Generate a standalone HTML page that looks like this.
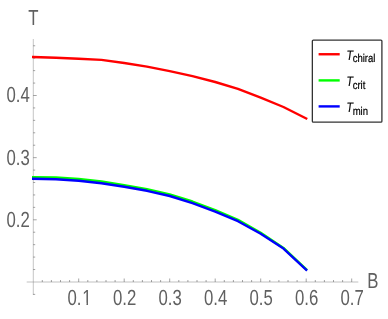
<!DOCTYPE html>
<html><head><meta charset="utf-8"><style>
html,body{margin:0;padding:0;background:#ffffff;}
svg{display:block;font-family:"Liberation Sans",sans-serif;will-change:transform;text-rendering:geometricPrecision;}
</style></head><body>
<svg width="388" height="319" viewBox="0 0 388 319">
<rect x="0" y="0" width="388" height="319" fill="#ffffff"/>
<line x1="33.300000000000004" y1="39.0" x2="33.300000000000004" y2="295.0" stroke="#808080" stroke-width="0.46"/>
<line x1="26.7" y1="282.0" x2="358.3" y2="282.0" stroke="#808080" stroke-width="0.5"/>
<line x1="33.2" y1="294.38" x2="35.2" y2="294.38" stroke="#5a5a5a" stroke-width="0.55"/>
<line x1="33.2" y1="269.52" x2="35.2" y2="269.52" stroke="#5a5a5a" stroke-width="0.55"/>
<line x1="33.2" y1="257.09" x2="35.2" y2="257.09" stroke="#5a5a5a" stroke-width="0.55"/>
<line x1="33.2" y1="244.66" x2="35.2" y2="244.66" stroke="#5a5a5a" stroke-width="0.55"/>
<line x1="33.2" y1="232.23" x2="35.2" y2="232.23" stroke="#5a5a5a" stroke-width="0.55"/>
<line x1="33.2" y1="219.80" x2="36.7" y2="219.80" stroke="#5a5a5a" stroke-width="0.55"/>
<line x1="33.2" y1="207.37" x2="35.2" y2="207.37" stroke="#5a5a5a" stroke-width="0.55"/>
<line x1="33.2" y1="194.94" x2="35.2" y2="194.94" stroke="#5a5a5a" stroke-width="0.55"/>
<line x1="33.2" y1="182.51" x2="35.2" y2="182.51" stroke="#5a5a5a" stroke-width="0.55"/>
<line x1="33.2" y1="170.08" x2="35.2" y2="170.08" stroke="#5a5a5a" stroke-width="0.55"/>
<line x1="33.2" y1="157.65" x2="36.7" y2="157.65" stroke="#5a5a5a" stroke-width="0.55"/>
<line x1="33.2" y1="145.22" x2="35.2" y2="145.22" stroke="#5a5a5a" stroke-width="0.55"/>
<line x1="33.2" y1="132.79" x2="35.2" y2="132.79" stroke="#5a5a5a" stroke-width="0.55"/>
<line x1="33.2" y1="120.36" x2="35.2" y2="120.36" stroke="#5a5a5a" stroke-width="0.55"/>
<line x1="33.2" y1="107.93" x2="35.2" y2="107.93" stroke="#5a5a5a" stroke-width="0.55"/>
<line x1="33.2" y1="95.50" x2="36.7" y2="95.50" stroke="#5a5a5a" stroke-width="0.55"/>
<line x1="33.2" y1="83.07" x2="35.2" y2="83.07" stroke="#5a5a5a" stroke-width="0.55"/>
<line x1="33.2" y1="70.64" x2="35.2" y2="70.64" stroke="#5a5a5a" stroke-width="0.55"/>
<line x1="33.2" y1="58.21" x2="35.2" y2="58.21" stroke="#5a5a5a" stroke-width="0.55"/>
<line x1="33.2" y1="45.78" x2="35.2" y2="45.78" stroke="#5a5a5a" stroke-width="0.55"/>
<line x1="42.30" y1="282.0" x2="42.30" y2="280.0" stroke="#5a5a5a" stroke-width="0.55"/>
<line x1="51.40" y1="282.0" x2="51.40" y2="280.0" stroke="#5a5a5a" stroke-width="0.55"/>
<line x1="60.50" y1="282.0" x2="60.50" y2="280.0" stroke="#5a5a5a" stroke-width="0.55"/>
<line x1="69.60" y1="282.0" x2="69.60" y2="280.0" stroke="#5a5a5a" stroke-width="0.55"/>
<line x1="78.70" y1="282.0" x2="78.70" y2="278.5" stroke="#5a5a5a" stroke-width="0.55"/>
<line x1="87.80" y1="282.0" x2="87.80" y2="280.0" stroke="#5a5a5a" stroke-width="0.55"/>
<line x1="96.90" y1="282.0" x2="96.90" y2="280.0" stroke="#5a5a5a" stroke-width="0.55"/>
<line x1="106.00" y1="282.0" x2="106.00" y2="280.0" stroke="#5a5a5a" stroke-width="0.55"/>
<line x1="115.10" y1="282.0" x2="115.10" y2="280.0" stroke="#5a5a5a" stroke-width="0.55"/>
<line x1="124.20" y1="282.0" x2="124.20" y2="278.5" stroke="#5a5a5a" stroke-width="0.55"/>
<line x1="133.30" y1="282.0" x2="133.30" y2="280.0" stroke="#5a5a5a" stroke-width="0.55"/>
<line x1="142.40" y1="282.0" x2="142.40" y2="280.0" stroke="#5a5a5a" stroke-width="0.55"/>
<line x1="151.50" y1="282.0" x2="151.50" y2="280.0" stroke="#5a5a5a" stroke-width="0.55"/>
<line x1="160.60" y1="282.0" x2="160.60" y2="280.0" stroke="#5a5a5a" stroke-width="0.55"/>
<line x1="169.70" y1="282.0" x2="169.70" y2="278.5" stroke="#5a5a5a" stroke-width="0.55"/>
<line x1="178.80" y1="282.0" x2="178.80" y2="280.0" stroke="#5a5a5a" stroke-width="0.55"/>
<line x1="187.90" y1="282.0" x2="187.90" y2="280.0" stroke="#5a5a5a" stroke-width="0.55"/>
<line x1="197.00" y1="282.0" x2="197.00" y2="280.0" stroke="#5a5a5a" stroke-width="0.55"/>
<line x1="206.10" y1="282.0" x2="206.10" y2="280.0" stroke="#5a5a5a" stroke-width="0.55"/>
<line x1="215.20" y1="282.0" x2="215.20" y2="278.5" stroke="#5a5a5a" stroke-width="0.55"/>
<line x1="224.30" y1="282.0" x2="224.30" y2="280.0" stroke="#5a5a5a" stroke-width="0.55"/>
<line x1="233.40" y1="282.0" x2="233.40" y2="280.0" stroke="#5a5a5a" stroke-width="0.55"/>
<line x1="242.50" y1="282.0" x2="242.50" y2="280.0" stroke="#5a5a5a" stroke-width="0.55"/>
<line x1="251.60" y1="282.0" x2="251.60" y2="280.0" stroke="#5a5a5a" stroke-width="0.55"/>
<line x1="260.70" y1="282.0" x2="260.70" y2="278.5" stroke="#5a5a5a" stroke-width="0.55"/>
<line x1="269.80" y1="282.0" x2="269.80" y2="280.0" stroke="#5a5a5a" stroke-width="0.55"/>
<line x1="278.90" y1="282.0" x2="278.90" y2="280.0" stroke="#5a5a5a" stroke-width="0.55"/>
<line x1="288.00" y1="282.0" x2="288.00" y2="280.0" stroke="#5a5a5a" stroke-width="0.55"/>
<line x1="297.10" y1="282.0" x2="297.10" y2="280.0" stroke="#5a5a5a" stroke-width="0.55"/>
<line x1="306.20" y1="282.0" x2="306.20" y2="278.5" stroke="#5a5a5a" stroke-width="0.55"/>
<line x1="315.30" y1="282.0" x2="315.30" y2="280.0" stroke="#5a5a5a" stroke-width="0.55"/>
<line x1="324.40" y1="282.0" x2="324.40" y2="280.0" stroke="#5a5a5a" stroke-width="0.55"/>
<line x1="333.50" y1="282.0" x2="333.50" y2="280.0" stroke="#5a5a5a" stroke-width="0.55"/>
<line x1="342.60" y1="282.0" x2="342.60" y2="280.0" stroke="#5a5a5a" stroke-width="0.55"/>
<line x1="351.70" y1="282.0" x2="351.70" y2="278.5" stroke="#5a5a5a" stroke-width="0.55"/>
<text transform="translate(29.75,226.75) scale(0.77,1)" font-size="21.8" text-anchor="end" fill="#606060">0.2</text>
<text transform="translate(29.75,164.60) scale(0.77,1)" font-size="21.8" text-anchor="end" fill="#606060">0.3</text>
<text transform="translate(29.75,102.45) scale(0.77,1)" font-size="21.8" text-anchor="end" fill="#606060">0.4</text>
<text transform="translate(124.70,304.60) scale(0.77,1)" font-size="21.8" text-anchor="middle" fill="#606060">0.2</text>
<text transform="translate(170.20,304.60) scale(0.77,1)" font-size="21.8" text-anchor="middle" fill="#606060">0.3</text>
<text transform="translate(215.70,304.60) scale(0.77,1)" font-size="21.8" text-anchor="middle" fill="#606060">0.4</text>
<text transform="translate(261.20,304.60) scale(0.77,1)" font-size="21.8" text-anchor="middle" fill="#606060">0.5</text>
<text transform="translate(306.70,304.60) scale(0.77,1)" font-size="21.8" text-anchor="middle" fill="#606060">0.6</text>
<text transform="translate(352.20,304.60) scale(0.77,1)" font-size="21.8" text-anchor="middle" fill="#606060">0.7</text>
<text transform="translate(67.53,304.60) scale(0.77,1)" font-size="21.8" text-anchor="start" fill="#606060">0.<tspan dx="0.8">1</tspan></text>
<rect x="82.5" y="302.8" width="3.98" height="2.4" fill="#ffffff"/>
<rect x="87.98" y="302.8" width="4.3" height="2.4" fill="#ffffff"/>
<text transform="translate(33.30,25.30) scale(0.77,1)" font-size="21.8" text-anchor="middle" fill="#606060">T</text>
<text transform="translate(372.80,288.40) scale(0.77,1)" font-size="21.8" text-anchor="middle" fill="#606060">B</text>
<path d="M33.20,57.05 L55.95,57.70 L78.70,58.80 L101.45,59.85 L124.20,63.00 L146.95,66.60 L169.70,71.10 L192.45,76.15 L215.20,82.00 L237.95,88.95 L260.70,97.60 L283.45,107.00 L306.20,118.50" fill="none" stroke="#ff0000" stroke-width="2.4" stroke-linejoin="round" stroke-linecap="square"/>
<path d="M33.20,177.10 L55.95,177.50 L78.70,179.00 L101.45,181.50 L124.20,185.10 L146.95,189.10 L169.70,194.30 L192.45,201.50 L215.20,210.00 L237.95,219.80 L260.70,232.70 L283.45,247.90 L306.20,269.30" fill="none" stroke="#00ff00" stroke-width="2.4" stroke-linejoin="round" stroke-linecap="square"/>
<path d="M33.20,178.80 L55.95,179.20 L78.70,180.70 L101.45,183.20 L124.20,186.80 L146.95,190.80 L169.70,196.00 L192.45,203.20 L215.20,211.70 L237.95,221.20 L260.70,233.70 L283.45,248.60 L306.20,269.70" fill="none" stroke="#0000ff" stroke-width="2.4" stroke-linejoin="round" stroke-linecap="square"/>
<rect x="312.35" y="40.05" width="69.55" height="82.15" rx="1" ry="1" fill="#ffffff" stroke="#333333" stroke-width="1.3"/>
<line x1="318.6" y1="54.25" x2="339.7" y2="54.25" stroke="#ff0000" stroke-width="2.4"/>
<text transform="translate(346.6,59.65) scale(0.77,1)" font-size="13.8" font-style="italic" fill="#000" stroke="#000" stroke-width="0.2">T</text>
<text transform="translate(352.65,62.35) scale(0.83,1)" font-size="11.5" fill="#000" stroke="#000" stroke-width="0.2">chiral</text>
<line x1="318.6" y1="80.4" x2="339.7" y2="80.4" stroke="#00ff00" stroke-width="2.4"/>
<text transform="translate(346.6,85.85) scale(0.77,1)" font-size="13.8" font-style="italic" fill="#000" stroke="#000" stroke-width="0.2">T</text>
<text transform="translate(352.65,88.55) scale(0.83,1)" font-size="11.5" fill="#000" stroke="#000" stroke-width="0.2">crit</text>
<line x1="318.6" y1="106.4" x2="339.7" y2="106.4" stroke="#0000ff" stroke-width="2.4"/>
<text transform="translate(346.6,112.05) scale(0.77,1)" font-size="13.8" font-style="italic" fill="#000" stroke="#000" stroke-width="0.2">T</text>
<text transform="translate(352.65,114.75) scale(0.83,1)" font-size="11.5" fill="#000" stroke="#000" stroke-width="0.2">min</text>
</svg>
</body></html>
